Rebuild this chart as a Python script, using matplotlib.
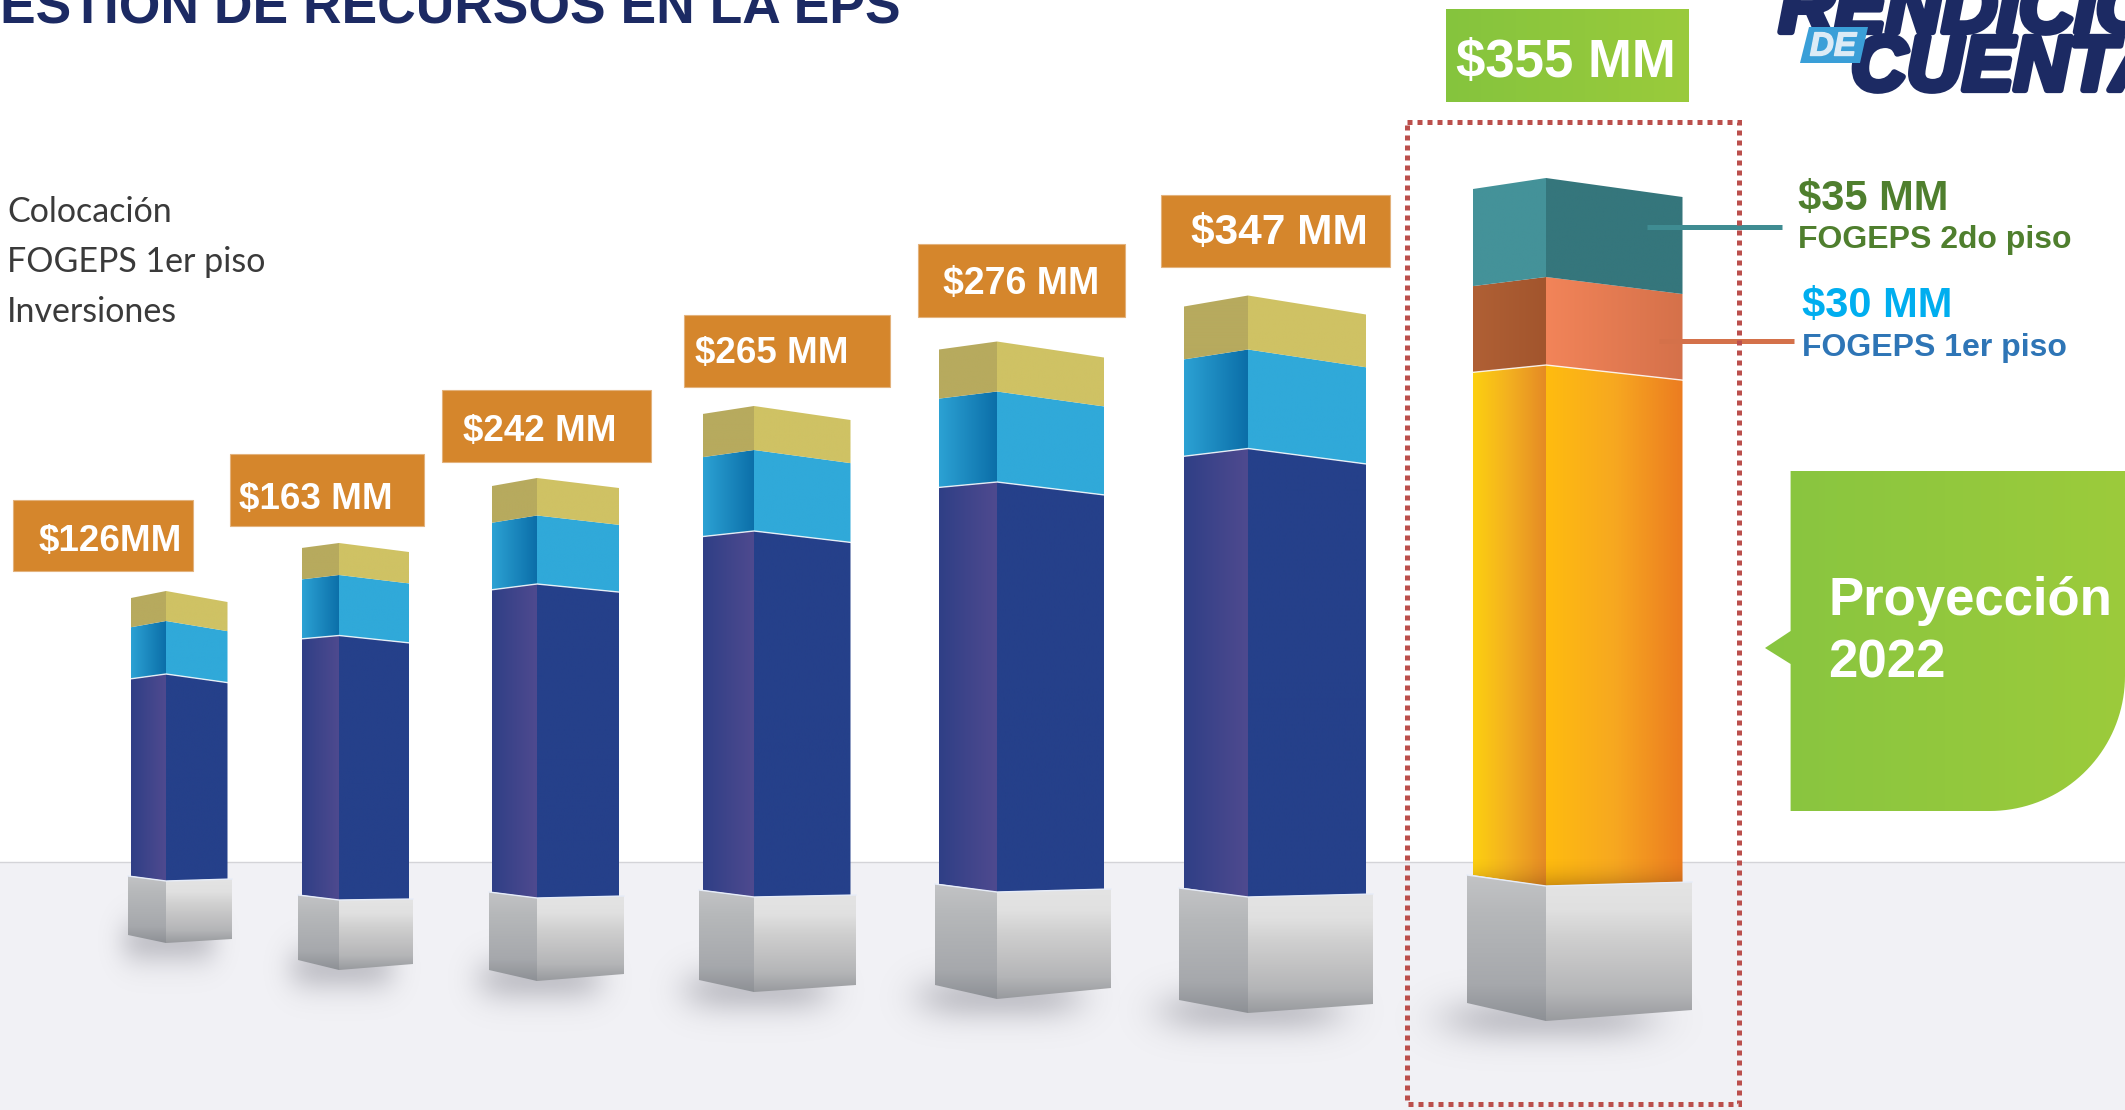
import numpy as np
import matplotlib
matplotlib.use('Agg')
import matplotlib.pyplot as plt
from matplotlib.colors import LinearSegmentedColormap
from matplotlib.patches import Polygon, Rectangle
import matplotlib.patheffects as pe

plt.rcParams['font.family'] = ['Liberation Sans', 'DejaVu Sans']

# values, heights of each stacked piece
total_labels = ['$126MM', '$163 MM', '$242 MM', '$265 MM', '$276 MM', '$347 MM']
colocacion = [207, 264.5, 314, 366, 410, 448.5]
fogeps = [53, 60.5, 68.5, 81, 90.5, 99]
inversiones = [30, 32, 37.5, 44, 50, 54]

proj_label = '$355 MM'
proj_colocacion = 521
proj_fogeps1 = 88
proj_fogeps2 = 99

legend_names = ['Colocación', 'FOGEPS 1er piso', 'Inversiones']

# layout of the pseudo 3d columns
col_left = [131, 301.5, 492, 702.5, 939, 1184, 1473]
col_mid = [166, 339, 537, 754, 997, 1248, 1546]
col_right = [227.5, 409, 619, 850.5, 1104, 1366, 1682.5]
col_bottom = [881, 900, 898, 897, 892, 897, 886]
off_bottom_l = [-5, -5, -6, -7, -8, -9, -11]
off_bottom_r = [-2, -1, -2, -2, -3, -3, -4]
off_top_l = [7, 5, 8, 8, 8, 11, 11]
off_top_r = [11, 9, 10, 14, 16, 19, 19]
base_left = [128, 298, 489, 699, 935, 1179, 1467]
base_right = [232, 413, 624, 856, 1111, 1373, 1692]
base_bot_l = [935, 960, 970, 980, 985, 1000, 1003]
base_bot_m = [943, 970, 981, 992, 999, 1013, 1021]
base_bot_r = [939, 964, 974, 985, 988, 1004, 1010]

box_x0 = [13, 230, 442, 684, 918, 1161]
box_x1 = [193, 423.5, 650.5, 890, 1125, 1390]
box_y0 = [499.5, 453.5, 390, 315, 244, 195]
box_y1 = [571, 525.5, 462, 387, 316.5, 267]
text_x = [39, 239, 463, 695, 943, 1191]
text_y = [541, 499, 432, 354, 284, 233]
text_size = [26.5, 26.5, 26.5, 26.5, 27, 30.5]

NAVY_TITLE = '#1c2a63'
ORANGE_BOX = '#d5862c'

fig = plt.figure(figsize=(21.25, 11.1), dpi=100)
ax = fig.add_axes([0, 0, 1, 1])
ax.set_xlim(0, 2125)
ax.set_ylim(1110, 0)
ax.axis('off')


def grad_poly(pts, colors, vertical=False, z=3):
    pts = np.array(pts)
    g = np.linspace(0, 1, 256)
    arr = g[:, None] if vertical else g[None, :]
    cmap = LinearSegmentedColormap.from_list('g', colors)
    im = ax.imshow(arr, cmap=cmap, vmin=0, vmax=1, aspect='auto', zorder=z, interpolation='bilinear',
                   extent=(pts[:, 0].min(), pts[:, 0].max(), pts[:, 1].max(), pts[:, 1].min()))
    patch = Polygon(pts, closed=True, fc='none', ec='none', zorder=z)
    ax.add_patch(patch)
    im.set_clip_path(patch)


def shadow(cx, cy, w, h):
    xx, yy = np.meshgrid(np.linspace(-2, 2, 200), np.linspace(-2, 2, 120))
    alpha = 0.42 * np.exp(-(xx ** 4 + yy ** 2) * 1.3)
    rgba = np.zeros((120, 200, 4))
    rgba[..., :3] = (0.52, 0.52, 0.56)
    rgba[..., 3] = alpha
    ax.imshow(rgba, extent=(cx - w, cx + w, cy + h, cy - h), aspect='auto', zorder=2, interpolation='bilinear')


def column(i, pieces):
    # pieces = list of (height, left colours, front colours, white line on top)
    xl, xm, xr = col_left[i], col_mid[i], col_right[i]
    total = sum(p[0] for p in pieces)
    y0 = col_bottom[i]
    done = 0

    def edge(h):
        f = (h / total) ** 0.6
        yl = y0 - h + off_bottom_l[i] + f * (off_top_l[i] - off_bottom_l[i])
        yr = y0 - h + off_bottom_r[i] + f * (off_top_r[i] - off_bottom_r[i])
        return yl, y0 - h, yr

    for h, left_c, front_c, line in pieces:
        b = edge(done)
        t = edge(done + h)
        grad_poly([(xl, b[0]), (xm, b[1]), (xm, t[1]), (xl, t[0])], left_c)
        grad_poly([(xm, b[1]), (xr, b[2]), (xr, t[2]), (xm, t[1])], front_c)
        if line:
            ax.plot([xl, xm, xr], t, color='white', lw=1, zorder=4, alpha=0.85)
        done += h

    # grey block under the column
    bl, bm, br = base_left[i], xm, base_right[i]
    tl, tm, tr = edge(0)
    shadow(bm + 3, base_bot_m[i] - 2, br - bl, 56)
    grad_poly([(bl, tl), (bm, tm), (bm, base_bot_m[i]), (bl, base_bot_l[i])],
              ['#c2c3c5', '#b6b8ba', '#aeb0b3', '#a6a8ac', '#8d9095'], vertical=True, z=5)
    grad_poly([(bm, tm), (br, tr), (br, base_bot_r[i]), (bm, base_bot_m[i])],
              ['#e4e4e4', '#e0e0e0', '#cfcfcf', '#c2c2c3', '#b4b5b7', '#989a9e'], vertical=True, z=5)
    ax.plot([bl, bm, br], [tl, tm, tr], color='#e6ecf8', lw=1, zorder=6)


# ground
ax.add_patch(Rectangle((0, 862), 2125, 248, fc='#f1f1f5', ec='none', zorder=1))
ax.plot([0, 2125], [862, 862], color='#d4d4d8', lw=1, zorder=1)

for i in range(6):
    column(i, [
        (colocacion[i], ['#2f3f86', '#4f4a8f'], ['#25408a', '#25408a'], True),
        (fogeps[i], ['#2ca2d4', '#0b6ea8'], ['#30a9d9', '#30a9d9'], False),
        (inversiones[i], ['#b7aa5e', '#b7aa5e'], ['#cfc264', '#cfc264'], False),
    ])

column(6, [
    (proj_colocacion, ['#fdd010', '#f3b020', '#e58a25'], ['#ffbc0f', '#f7a820', '#ec7c20'], True),
    (proj_fogeps1, ['#b06035', '#a2552d'], ['#f28459', '#d5714a'], False),
    (proj_fogeps2, ['#449299', '#449299'], ['#35767c', '#35767c'], False),
])

# darker foot of the orange column
xx = np.linspace(0, 1, 32)[:, None]
rgba = np.zeros((32, 1, 4))
rgba[..., :3] = (0.5, 0.28, 0.05)
rgba[..., 3] = xx ** 2 * 0.42
im = ax.imshow(rgba, extent=(col_left[6], col_right[6], 888, 855), aspect='auto', zorder=4, interpolation='bilinear')
clip = Polygon([(col_left[6], 855), (col_right[6], 855), (col_right[6], 882), (col_mid[6], 886), (col_left[6], 875)],
               fc='none', ec='none')
ax.add_patch(clip)
im.set_clip_path(clip)

# total labels
for i in range(6):
    ax.add_patch(Rectangle((box_x0[i], box_y0[i]), box_x1[i] - box_x0[i], box_y1[i] - box_y0[i],
                           fc=ORANGE_BOX, ec='#e3b27c', lw=0.8, zorder=7))
    ax.text(text_x[i], text_y[i], total_labels[i], color='white', fontweight='bold', fontsize=text_size[i],
            va='center', ha='left', zorder=8)

grad_poly([(1446, 9), (1689, 9), (1689, 102), (1446, 102)], ['#85c43e', '#9acb3b'], z=7)
ax.text(1456, 63, proj_label, color='white', fontweight='bold', fontsize=38, va='center', ha='left', zorder=8)

# title and logo, both cut by the edge of the slide
ax.text(0, 24, 'ESTION DE RECURSOS EN LA EPS', color=NAVY_TITLE, fontweight='bold', fontsize=38.4,
        va='baseline', ha='left', zorder=8)

stroke = [pe.withStroke(linewidth=4.5, foreground=NAVY_TITLE)]
ax.text(1779, 32, 'RENDICIÓN', color=NAVY_TITLE, fontweight='bold', style='italic', fontsize=55.5,
        va='baseline', ha='left', zorder=8, path_effects=stroke)
ax.text(1851, 90, 'CUENTAS', color=NAVY_TITLE, fontweight='bold', style='italic', fontsize=55.5,
        va='baseline', ha='left', zorder=8, path_effects=stroke)
ax.add_patch(Polygon([(1809, 27), (1868, 27), (1860, 63), (1800, 63)], fc='#3a9fd8', ec='none', zorder=9))
ax.text(1833, 47, 'DE', color='#dcebf6', fontweight='bold', style='italic', fontsize=24,
        va='center', ha='center', zorder=10, path_effects=[pe.withStroke(linewidth=1, foreground='#dcebf6')])

# legend text
for name, y in zip(legend_names, [212, 262, 312]):
    ax.text(7, y, name, color='#3a3a3a', family='Lato', fontsize=24.5, va='center', ha='left', zorder=8)

# projection side notes
ax.plot([1647, 1782], [227, 227], color='#3f8c92', lw=3.6, solid_capstyle='butt', zorder=6)
ax.plot([1659, 1794], [341, 341], color='#d4714a', lw=3.6, solid_capstyle='butt', zorder=6)
ax.text(1797.6, 199, '$35 MM', color='#4f7f2e', fontweight='bold', fontsize=30, va='center', zorder=8)
ax.text(1797.6, 240, 'FOGEPS 2do piso', color='#4f7f2e', fontweight='bold', fontsize=23, va='center', zorder=8)
ax.text(1802, 306, '$30 MM', color='#00aeef', fontweight='bold', fontsize=30, va='center', zorder=8)
ax.text(1802, 348, 'FOGEPS 1er piso', color='#2e75b6', fontweight='bold', fontsize=23, va='center', zorder=8)

# dotted frame around the projection
ax.add_patch(Rectangle((1406.5, 122), 1739 - 1406.5, 1103.5 - 122, fc='none', ec='#bb4f4c', lw=3.6,
                       linestyle=(0, (1, 1)), zorder=7))

# green callout
t = np.linspace(0, np.pi / 2, 40)
arc_x = 1989.5 + 135.5 * np.cos(t)
arc_y = 676 + 135 * np.sin(t)
callout = [(1790.6, 471), (2125, 471)] + list(zip(arc_x, arc_y)) + [(1790.6, 811), (1790.6, 664), (1765, 648),
                                                                     (1790.6, 631)]
grad_poly(callout, ['#88c540', '#9ccb3b'], z=7)
ax.text(1828, 601, 'Proyección', color='white', fontweight='bold', fontsize=38, va='center', zorder=8)
ax.text(1828, 664, '2022', color='white', fontweight='bold', fontsize=38, va='center', zorder=8)

fig.savefig('out.png', dpi=100)
